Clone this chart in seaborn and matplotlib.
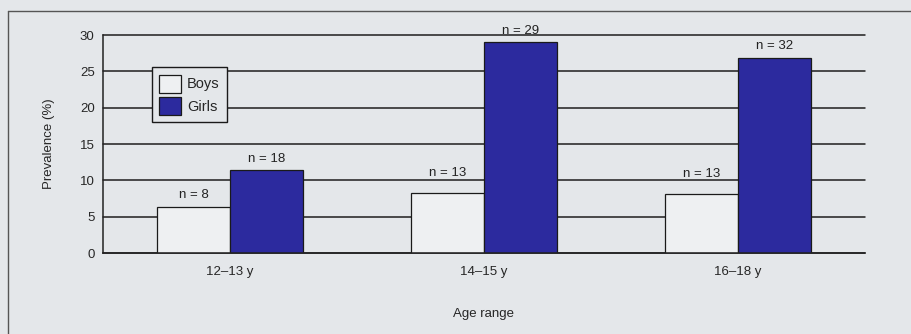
import pandas as pd
import seaborn as sns
import matplotlib.pyplot as plt
from matplotlib.lines import Line2D
from matplotlib.ticker import FixedLocator

# data
age_groups = ["12–13 y", "14–15 y", "16–18 y"]
boys_prev = [6.4, 8.3, 8.1]
girls_prev = [11.4, 29.0, 26.9]
boys_n = [8, 13, 13]
girls_n = [18, 29, 32]

df = pd.DataFrame({
    "age": age_groups * 2,
    "sex": ["Boys"] * 3 + ["Girls"] * 3,
    "prev": boys_prev + girls_prev,
})

bg = "#e4e7ea"
sns.set_style("white")
plt.rcParams["font.family"] = ["Liberation Sans", "DejaVu Sans"]

fig = plt.figure(figsize=(9.11, 3.34), dpi=100, facecolor=bg)
ax = fig.add_axes([0.113, 0.2425, 0.8365, 0.6525])
ax.set_facecolor(bg)

sns.barplot(data=df, x="age", y="prev", hue="sex",
            palette={"Boys": "#eef0f2", "Girls": "#2c2a9e"},
            width=0.575, gap=0, edgecolor="#1a1a1a", linewidth=0.9,
            saturation=1, ax=ax)

# n labels on top of bars (the n = 13 ones sit clear of the 10 % line)
pads = [[4, 10, 10], [4, 4, 4]]
for cont, ns, pp in zip(ax.containers, [boys_n, girls_n], pads):
    for bar, n, p in zip(cont, ns, pp):
        ax.annotate(f"n = {n}", (bar.get_x() + bar.get_width() / 2, bar.get_height()),
                    xytext=(0, p), textcoords="offset points",
                    ha="center", va="bottom", fontsize=9.5, color="#222222")

ax.set_ylim(0, 30)
ax.set_xlim(-0.5, 2.5)
ax.set_yticks(range(0, 31, 5))
ax.yaxis.grid(True, color="#1e1e1e", linewidth=1.1)
for gl in ax.yaxis.get_gridlines():
    gl.set_clip_on(False)
ax.set_axisbelow(True)

ax.xaxis.set_minor_locator(FixedLocator([0.5, 1.5, 2.5]))
ax.tick_params(axis="x", which="major", length=0, labelsize=9.5, pad=9)
ax.tick_params(axis="x", which="minor", length=5, width=1, color="#222", direction="out")
ax.tick_params(axis="y", length=5, width=1, color="#222", labelsize=9.5,
               direction="out", pad=1)

for s in ["top", "right"]:
    ax.spines[s].set_visible(False)
for s in ["left", "bottom"]:
    ax.spines[s].set_color("#222222")
    ax.spines[s].set_linewidth(1.1)

ax.set_xlabel("Age range", fontsize=9.5, labelpad=22)
ax.set_ylabel("Prevalence (%)", fontsize=9.5, labelpad=18)

leg = ax.legend(loc="upper left", bbox_to_anchor=(0.055, 0.885), fontsize=10.5,
                frameon=True, fancybox=False, edgecolor="#1a1a1a",
                facecolor=bg, framealpha=1, handlelength=1.5,
                handleheight=1.5, handletextpad=0.4, borderpad=0.5,
                labelspacing=0.3)
leg.get_frame().set_linewidth(1.0)

# scan frame around the figure
fig.add_artist(Line2D([8 / 911, 1.0], [1 - 11 / 334, 1 - 11 / 334],
                      transform=fig.transFigure, color="#555555", lw=1))
fig.add_artist(Line2D([8 / 911, 8 / 911], [0, 1 - 11 / 334],
                      transform=fig.transFigure, color="#555555", lw=1))

fig.savefig("out.png", dpi=100, facecolor=bg)
